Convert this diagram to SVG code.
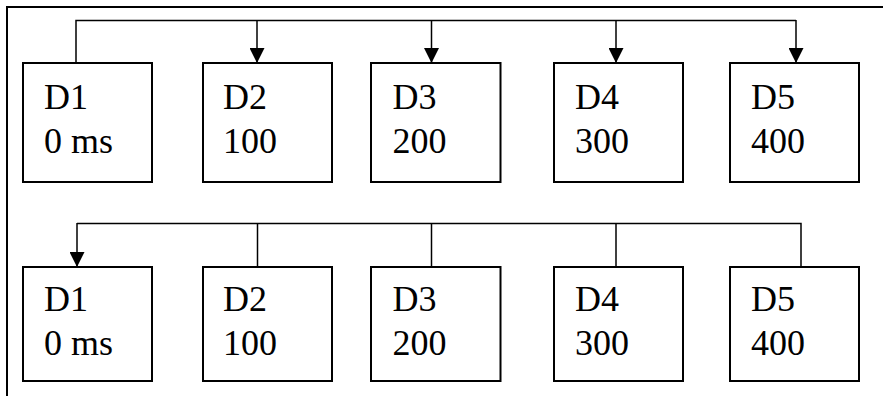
<svg xmlns="http://www.w3.org/2000/svg" width="883" height="396" viewBox="0 0 883 396">
<style>
.box{fill:#fff;stroke:#000;stroke-width:2}
.ln{fill:none;stroke:#000;stroke-width:1.5}
.frame{fill:none;stroke:#000;stroke-width:2}
.lbl{font-family:"Liberation Serif","Times New Roman",serif;font-size:36px;fill:#000}
</style>
<defs>
<marker id="arr" markerWidth="15" markerHeight="15" refX="15" refY="7.5" orient="auto" markerUnits="userSpaceOnUse" viewBox="0 0 15 15">
<path d="M0,0 L15,7.5 L0,15 Z" fill="#000"/>
</marker>
</defs>
<path class="frame" d="M7,396 V7 H883"/>
<g id="connectors">
<path class="ln" d="M76,63 V20.5 H796"/>
<line class="ln" x1="257" y1="20.5" x2="257" y2="63" marker-end="url(#arr)"/>
<line class="ln" x1="431.5" y1="20.5" x2="431.5" y2="63" marker-end="url(#arr)"/>
<line class="ln" x1="616" y1="20.5" x2="616" y2="63" marker-end="url(#arr)"/>
<line class="ln" x1="796" y1="20" x2="796" y2="63" marker-end="url(#arr)"/>
<path class="ln" d="M77,223.5 H801 V267"/>
<line class="ln" x1="77" y1="223" x2="77" y2="267" marker-end="url(#arr)"/>
<line class="ln" x1="257.5" y1="223.5" x2="257.5" y2="267"/>
<line class="ln" x1="431.5" y1="223.5" x2="431.5" y2="267"/>
<line class="ln" x1="616" y1="223.5" x2="616" y2="267"/>
</g>
<g id="t-d1"><rect class="box" x="23" y="63" width="129" height="119"/><text class="lbl" x="44" y="108.5">D1</text><text class="lbl" x="44" y="152.5">0 ms</text></g>
<g id="t-d2"><rect class="box" x="203" y="63" width="129" height="119"/><text class="lbl" x="223" y="108.5">D2</text><text class="lbl" x="223" y="152.5">100</text></g>
<g id="t-d3"><rect class="box" x="371" y="63" width="129.5" height="119"/><text class="lbl" x="392.5" y="108.5">D3</text><text class="lbl" x="392.5" y="152.5">200</text></g>
<g id="t-d4"><rect class="box" x="554" y="63" width="129" height="119"/><text class="lbl" x="575" y="108.5">D4</text><text class="lbl" x="575" y="152.5">300</text></g>
<g id="t-d5"><rect class="box" x="730" y="63" width="129" height="119"/><text class="lbl" x="751" y="108.5">D5</text><text class="lbl" x="751" y="152.5">400</text></g>
<g id="b-d1"><rect class="box" x="23" y="267" width="129" height="114"/><text class="lbl" x="44" y="310.5">D1</text><text class="lbl" x="44" y="355">0 ms</text></g>
<g id="b-d2"><rect class="box" x="203" y="267" width="129" height="114"/><text class="lbl" x="223" y="310.5">D2</text><text class="lbl" x="223" y="355">100</text></g>
<g id="b-d3"><rect class="box" x="371" y="267" width="129.5" height="114"/><text class="lbl" x="392.5" y="310.5">D3</text><text class="lbl" x="392.5" y="355">200</text></g>
<g id="b-d4"><rect class="box" x="554" y="267" width="129" height="114"/><text class="lbl" x="575" y="310.5">D4</text><text class="lbl" x="575" y="355">300</text></g>
<g id="b-d5"><rect class="box" x="730" y="267" width="129" height="114"/><text class="lbl" x="751" y="310.5">D5</text><text class="lbl" x="751" y="355">400</text></g>
</svg>
